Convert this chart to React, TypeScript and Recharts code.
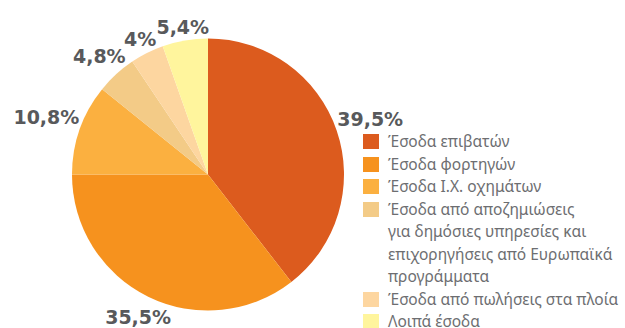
import { PieChart, Pie, Cell, Legend } from 'recharts';

const categories = [
    'Έσοδα επιβατών',
    'Έσοδα φορτηγών',
    'Έσοδα Ι.Χ. οχημάτων',
    'Έσοδα από αποζημιώσεις\nγια δημόσιες υπηρεσίες και\nεπιχορηγήσεις από Ευρωπαϊκά\nπρογράμματα',
    'Έσοδα από πωλήσεις στα πλοία',
    'Λοιπά έσοδα'
];

const shares = [39.5, 35.5, 10.8, 4.8, 4, 5.4];

const colors = ['#DC5B1E', '#F6921E', '#FBB040', '#F3CB87', '#FDD6A0', '#FFF59D'];

const pieData = categories.map((name, i) => ({ name, value: shares[i] }));

const RAD = Math.PI / 180;
const LABEL_SIZE = 19;

// rough DejaVu Sans Bold advance widths
const textWidth = (s: string) =>
    s.split('').reduce((w, ch) => w + (ch === ',' ? 0.38 : ch === '%' ? 1.0 : 0.696), 0) * LABEL_SIZE;

const fmt = (v: number) => String(v).replace('.', ',') + '%';

const renderLabel = (props: any) => {
    const { cx, cy, midAngle, outerRadius, value } = props;
    const text = fmt(value);
    const w = textWidth(text);
    const h = 14;
    const c = Math.cos(-midAngle * RAD);
    const s = Math.sin(-midAngle * RAD);
    const r = outerRadius + 2 + (w / 2) * Math.abs(c) + (h / 2) * Math.abs(s);
    const x = cx + r * c;
    const y = cy + r * s;
    return (
        <text
            x={x}
            y={y + h / 2}
            textAnchor='middle'
            fill='#58595B'
            fontFamily='DejaVu Sans'
            fontWeight='bold'
            fontSize={LABEL_SIZE}
        >
            {text}
        </text>
    );
};

// legend built from the arrays so the order stays as in the source
const renderLegend = () => (
    <div style={{ fontFamily: '"Noto Sans", sans-serif', fontSize: 15.5, color: '#6D6E71', lineHeight: '22.5px' }}>
        {categories.map((name, i) => (
            <div key={i} style={{ display: 'flex', alignItems: 'flex-start' }}>
                <span
                    style={{
                        display: 'inline-block',
                        width: 16,
                        height: 15,
                        marginTop: 4,
                        marginRight: 9,
                        flexShrink: 0,
                        background: colors[i]
                    }}
                />
                <span style={{ whiteSpace: 'pre' }}>{name}</span>
            </div>
        ))}
    </div>
);

const App = () => {
    return (
        <div style={{ position: 'absolute', left: 0, top: 0, background: '#fff' }}>
            <PieChart width={625} height={328} margin={{ top: 0, right: 0, bottom: 0, left: 0 }}>
                <Pie
                    data={pieData}
                    dataKey='value'
                    nameKey='name'
                    cx={208}
                    cy={174.5}
                    outerRadius={136}
                    startAngle={90}
                    endAngle={-270}
                    stroke='none'
                    label={renderLabel}
                    labelLine={false}
                    isAnimationActive={false}
                >
                    {pieData.map((_, i) => (
                        <Cell key={i} fill={colors[i]} />
                    ))}
                </Pie>
                <Legend
                    content={renderLegend}
                    wrapperStyle={{ left: 363, top: 130, width: 262, bottom: 'auto' }}
                />
            </PieChart>
        </div>
    );
};

export default App;
